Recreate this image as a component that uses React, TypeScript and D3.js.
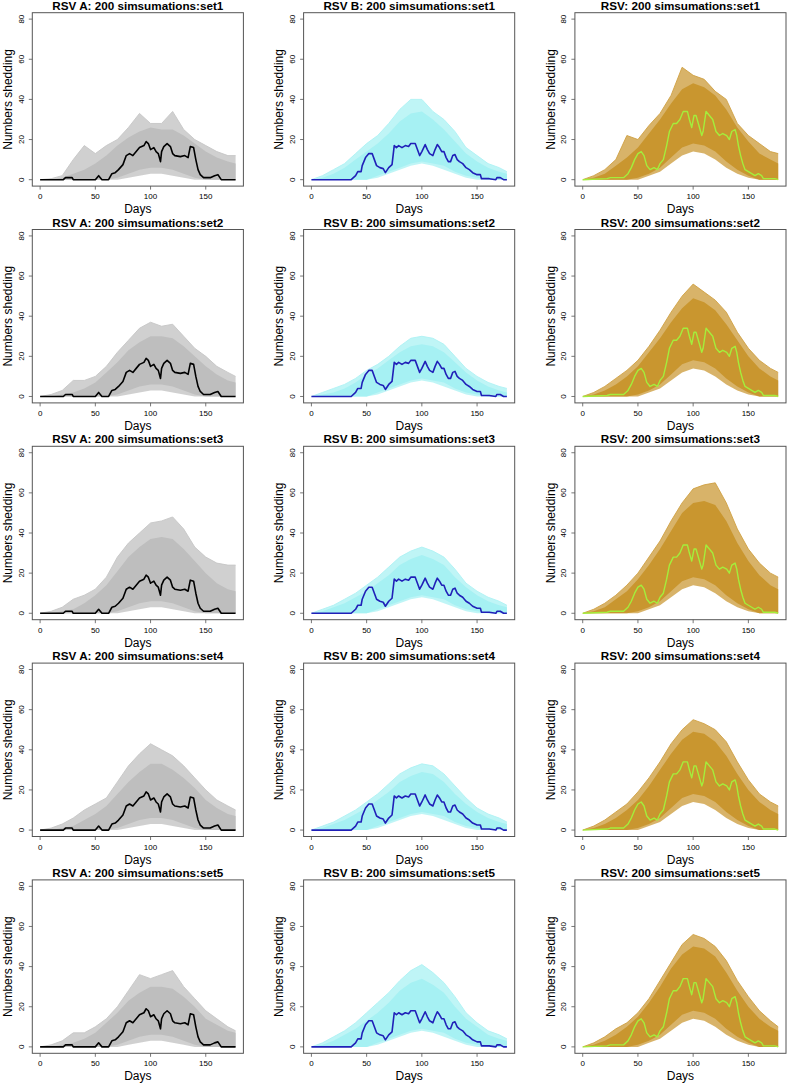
import React from "react";
import * as d3 from "d3";

// ---------- data ----------
const envDays = [0, 10, 20, 30, 40, 50, 60, 70, 80, 90, 100, 110, 120, 130, 140, 150, 160, 170, 177];
const setNames = ["set1", "set2", "set3", "set4", "set5"];
const xTicks = [0, 50, 100, 150];
const yTicks = [0, 20, 40, 60, 80];

// RSV A simulation envelopes (outer max, dense upper) per set
const rsvAMax = [
  [0, 0.5, 2, 10, 17, 13, 17, 20, 26, 33, 28, 28, 34, 25, 20, 17, 14, 12, 12],
  [0, 1, 3, 8, 8, 10, 15, 22, 28, 34, 37, 35, 36, 30, 24, 20, 15, 12, 10],
  [0, 1, 3, 7, 9, 12, 18, 28, 35, 40, 45, 46, 48, 42, 33, 28, 25, 24, 24],
  [0, 1, 3, 6, 10, 13, 16, 24, 32, 38, 43, 40, 37, 32, 26, 20, 15, 12, 10],
  [0, 1, 3, 7, 7, 10, 14, 20, 28, 36, 34, 36, 38, 30, 24, 18, 14, 10, 8],
];
const rsvACore = [
  [0, 0, 1, 3, 5, 8, 12, 17, 21, 24, 26, 25, 25, 22, 18, 14, 11, 9, 8],
  [0, 0, 1, 2, 4, 7, 12, 17, 23, 27, 30, 30, 29, 25, 20, 15, 11, 8, 7],
  [0, 0, 1, 2, 5, 9, 14, 21, 28, 33, 37, 38, 37, 32, 26, 20, 15, 12, 11],
  [0, 0, 1, 2, 5, 8, 12, 18, 24, 29, 33, 33, 30, 26, 21, 15, 11, 8, 7],
  [0, 0, 1, 2, 4, 7, 12, 17, 23, 27, 30, 30, 29, 25, 20, 14, 11, 8, 7],
];
const rsvALowCore = [0, 0, 0, 0, 0, 0, 0, 1, 3, 5, 6, 6, 5, 3, 1, 0, 0, 0, 0];
const rsvALowMin = [0, 0, 0, 0, 0, 0, 0, 0, 1, 2, 3, 3, 2, 1, 0, 0, 0, 0, 0];

// RSV B
const rsvBMax = [
  [0, 2, 5, 8, 13, 18, 22, 28, 35, 40, 40, 34, 30, 24, 16, 12, 8, 6, 4],
  [0, 2, 4, 6, 9, 13, 16, 20, 25, 29, 30, 29, 26, 20, 14, 10, 7, 5, 4],
  [0, 2, 4, 7, 10, 14, 18, 23, 28, 31, 33, 31, 28, 22, 15, 11, 8, 6, 4],
  [0, 2, 4, 7, 10, 14, 18, 23, 28, 31, 33, 32, 28, 22, 16, 11, 8, 6, 4],
  [0, 2, 5, 8, 12, 17, 22, 27, 33, 38, 41, 37, 32, 25, 17, 12, 8, 6, 4],
];
const rsvBCore = [
  [0, 1, 3, 6, 10, 14, 18, 23, 29, 33, 34, 30, 25, 19, 13, 9, 6, 4, 3],
  [0, 1, 2, 4, 7, 11, 14, 18, 22, 25, 26, 25, 22, 17, 12, 8, 5, 3, 2],
  [0, 1, 3, 5, 8, 11, 15, 19, 24, 27, 29, 27, 24, 18, 13, 9, 6, 4, 3],
  [0, 1, 3, 5, 8, 11, 15, 19, 24, 27, 29, 28, 24, 18, 13, 9, 6, 4, 3],
  [0, 1, 3, 6, 9, 13, 17, 22, 28, 32, 34, 31, 27, 20, 14, 10, 6, 4, 3],
];
const rsvBLowCore = [0, 0, 0, 0, 0, 0, 2, 4, 6, 8, 9, 8, 7, 4, 2, 1, 0, 0, 0];
const rsvBLowMin = [0, 0, 0, 0, 0, 0, 1, 3, 5, 7, 8, 7, 5, 3, 1, 0, 0, 0, 0];

// RSV total
const rsvTMax = [
  [0, 2, 5, 10, 22, 20, 27, 33, 42, 56, 52, 50, 44, 40, 28, 22, 18, 14, 13],
  [0, 2, 5, 9, 13, 18, 25, 33, 42, 50, 56, 52, 48, 42, 32, 24, 18, 14, 12],
  [0, 2, 5, 9, 14, 20, 28, 36, 46, 55, 62, 64, 65, 55, 42, 32, 25, 20, 18],
  [0, 2, 5, 9, 13, 19, 26, 34, 43, 50, 55, 53, 50, 44, 34, 25, 18, 14, 12],
  [0, 2, 5, 9, 12, 17, 24, 33, 42, 51, 56, 54, 50, 43, 33, 25, 18, 13, 10],
];
const rsvTCore = [
  [0, 1, 3, 7, 11, 16, 23, 30, 38, 45, 48, 46, 42, 35, 26, 19, 13, 10, 8],
  [0, 1, 3, 6, 10, 15, 22, 29, 37, 44, 49, 47, 43, 36, 28, 20, 14, 10, 8],
  [0, 1, 3, 7, 11, 17, 24, 32, 41, 50, 55, 56, 54, 46, 35, 26, 19, 14, 12],
  [0, 1, 3, 6, 10, 15, 22, 30, 38, 45, 49, 48, 44, 37, 28, 20, 14, 10, 8],
  [0, 1, 3, 6, 10, 15, 22, 30, 39, 46, 50, 49, 45, 37, 28, 20, 14, 10, 8],
];
const rsvTLowCore = [0, 0, 0, 0, 0, 1, 3, 6, 11, 16, 18, 17, 14, 9, 5, 2, 0, 0, 0];
const rsvTLowMin = [0, 0, 0, 0, 0, 0, 2, 4, 8, 12, 14, 13, 10, 6, 3, 1, 0, 0, 0];

// observed series
const obsADays = [0, 21, 23, 29, 30, 50, 53, 56, 62, 65, 68, 71, 75, 78, 81, 84, 87, 90, 94, 96, 98, 100, 103, 105, 107, 109, 110, 112, 115, 118, 120, 122, 127, 131, 134, 136, 139, 141, 143, 145, 148, 154, 158, 161, 164, 177];
const obsAVals = [0, 0, 1, 1, 0, 0, 2, 0, 0, 3, 3.5, 5, 7.5, 12, 13, 12, 14, 16, 17, 19, 18, 15, 16, 14, 13, 9, 14, 16.5, 18, 16.5, 13, 12, 11.5, 12, 11, 16.5, 16, 10, 5, 2.5, 1, 1, 2, 2.5, 0, 0];

const obsBDays = [0, 36, 40, 42, 45, 46, 49, 52, 55, 57, 59, 62, 65, 67, 70, 73, 75, 77, 79, 82, 85, 88, 90, 94, 96, 98, 100, 103, 105, 107, 110, 112, 114, 116, 118, 120, 122, 124, 126, 128, 130, 132, 134, 137, 140, 143, 146, 150, 153, 154, 161, 167, 168, 171, 174, 177];
const obsBVals = [0, 0, 2, 4, 4, 7, 11, 13, 13, 10, 7, 6, 5.5, 3.5, 6, 7.5, 17, 16, 17, 16, 17, 16.5, 18, 18, 15, 12, 14, 17.5, 15, 13, 12, 15, 17.5, 16, 14, 14, 11, 9, 9, 12, 12.5, 10, 9, 8, 6, 5, 3.5, 2.5, 2.5, 0.5, 0.5, 0, 1, 1, 0, 0];

const obsTDays = [0, 22, 25, 37, 41, 44, 47, 50, 53, 55.5, 58, 61, 64.6, 67.6, 70, 73, 76, 78.5, 82, 85, 88, 91, 94.8, 96.6, 98.7, 100.8, 102.6, 104.7, 107.8, 109, 111.7, 114.7, 117.7, 120.7, 123.8, 126.8, 130.4, 132.8, 135, 138, 139.5, 141, 143, 145, 147, 150, 153, 156, 159, 162, 163.6, 174, 177];
const obsTVals = [0, 0.5, 1, 1, 3, 6, 10, 13, 14, 12, 7, 5, 6, 5, 8, 10, 17, 24, 28, 28, 30, 34, 34, 30, 26, 32, 32, 28, 22, 24, 34, 32, 30, 24, 22, 23, 22, 20, 24, 25, 22, 17, 12, 8, 5, 4, 3, 2, 3, 2, 0.5, 0.5, 0];

// ---------- layout / style ----------
const FONT = "'Liberation Sans', Arial, Helvetica, sans-serif";
const colLeft = [32.3, 303.6, 574.9];
const rowStep = 216.8;
const topBase = 12.7;
const boxW = 211.1;
const boxH = 173.4;

const columns = [
  { name: "RSV A", fill: "#bebebe", edge: "#c6c6c6", line: "#000000", lw: 1.6, maxs: rsvAMax, cores: rsvACore, loCore: rsvALowCore, loMin: rsvALowMin, od: obsADays, ov: obsAVals },
  { name: "RSV B", fill: "#a6f1f3", edge: "#aef2f4", line: "#2020b8", lw: 1.6, maxs: rsvBMax, cores: rsvBCore, loCore: rsvBLowCore, loMin: rsvBLowMin, od: obsBDays, ov: obsBVals },
  { name: "RSV", fill: "#c9962f", edge: "#cfa043", line: "#a4ee3c", lw: 1.4, maxs: rsvTMax, cores: rsvTCore, loCore: rsvTLowCore, loMin: rsvTLowMin, od: obsTDays, ov: obsTVals },
];

function Panel({ c, s, left, top }: any) {
  const x = d3.scaleLinear().domain([-7.08, 184.08]).range([left, left + boxW]);
  const y = d3.scaleLinear().domain([-3.2, 83.2]).range([top + boxH, top]);
  const outer = d3
    .area<number>()
    .x((_d, i) => x(envDays[i]))
    .y0((_d, i) => y(c.loMin[i]))
    .y1((d) => y(d));
  const core = d3
    .area<number>()
    .x((_d, i) => x(envDays[i]))
    .y0((_d, i) => y(c.loCore[i]))
    .y1((d) => y(d));
  const edge = d3
    .line<number>()
    .x((_d, i) => x(envDays[i]))
    .y((d) => y(d));
  const obs = d3
    .line<number>()
    .x((_d, i) => x(c.od[i]))
    .y((d) => y(d));
  const bottom = top + boxH;
  const cx = left + boxW / 2;
  const cy = top + boxH / 2;
  return (
    <g>
      <path d={outer(c.maxs[s]) || ""} fill={c.fill} opacity={0.72} />
      <path d={edge(c.maxs[s]) || ""} fill="none" stroke={c.edge} strokeWidth={0.9} />
      <path d={core(c.cores[s]) || ""} fill={c.fill} />
      <path d={obs(c.ov) || ""} fill="none" stroke={c.line} strokeWidth={c.lw} strokeLinejoin="round" />
      <rect x={left} y={top} width={boxW} height={boxH} fill="none" stroke="#555" strokeWidth={1} />
      {xTicks.map((t) => (
        <g key={"x" + t}>
          <line x1={x(t)} x2={x(t)} y1={bottom} y2={bottom + 3.5} stroke="#555" strokeWidth={0.8} />
          <text x={x(t)} y={bottom + 13} fontSize={8} textAnchor="middle" fontFamily={FONT}>
            {t}
          </text>
        </g>
      ))}
      {yTicks.map((t) => (
        <g key={"y" + t}>
          <line x1={left} x2={left - 3.5} y1={y(t)} y2={y(t)} stroke="#555" strokeWidth={0.8} />
          <text
            transform={`translate(${left - 8.8},${y(t)}) rotate(-90)`}
            fontSize={8}
            textAnchor="middle"
            fontFamily={FONT}
          >
            {t}
          </text>
        </g>
      ))}
      <text x={cx} y={top - 3} fontSize={11.7} fontWeight="bold" textAnchor="middle" fontFamily={FONT}>
        {`${c.name}: 200 simsumations:${setNames[s]}`}
      </text>
      <text x={cx} y={bottom + 27} fontSize={12} textAnchor="middle" fontFamily={FONT}>
        Days
      </text>
      <text
        transform={`translate(${left - 20.3},${cy}) rotate(-90)`}
        fontSize={12}
        textAnchor="middle"
        fontFamily={FONT}
      >
        Numbers shedding
      </text>
    </g>
  );
}

export default function App() {
  return (
    <svg
      width={788}
      height={1084}
      viewBox="0 0 788 1084"
      style={{ position: "absolute", left: 0, top: 0, background: "#fff" }}
    >
      <rect width={788} height={1084} fill="#fff" />
      {setNames.map((_n, r) =>
        columns.map((c, ci) => (
          <Panel key={r + "-" + ci} c={c} s={r} left={colLeft[ci]} top={topBase + r * rowStep} />
        ))
      )}
    </svg>
  );
}
